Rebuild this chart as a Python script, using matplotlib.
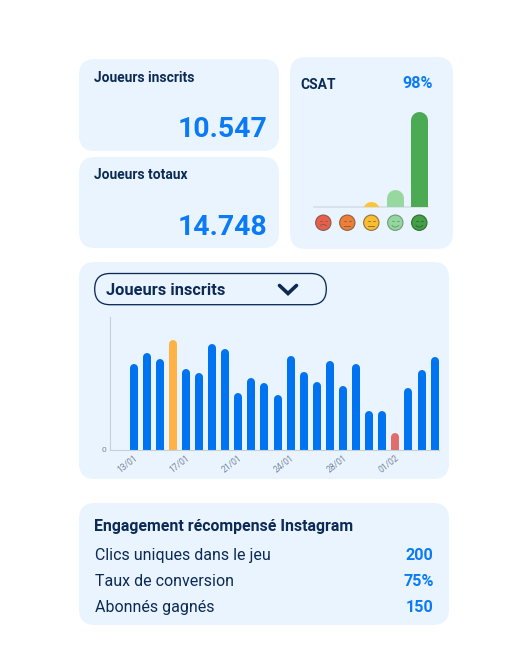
import numpy as np
from matplotlib import pyplot as plt
from matplotlib.patches import FancyBboxPatch, Circle, Arc

plt.rcParams['font.family'] = ['Roboto', 'DejaVu Sans']

W, H = 518, 672
NAVY = '#0B2A55'
BLUE = '#0A7BF5'
CARD = '#EAF4FF'

# values
stat_labels = ['Joueurs inscrits', 'Joueurs totaux']
stat_values = ['10.547', '14.748']
csat_score = '98%'
csat_counts = [0, 0, 1, 3, 16]
csat_colors = ['#E8604C', '#EE7D35', '#FFC53A', '#97D8A0', '#4CAA55']
face_colors = ['#E8604C', '#EE7D35', '#FBBD2F', '#94D6A0', '#43A047']
face_edges = ['#8A5A50', '#8A6248', '#8A7444', '#6F9A78', '#2E6B34']
face_mouths = [-1, 0, 0, 1, 1]
daily_players = [86, 97, 91, 110, 81, 77, 106, 101, 57, 72, 67, 55, 94, 78, 68, 89,
                 64, 86, 39, 39, 17, 62, 80, 93]
bar_highlights = {3: '#FFB347', 20: '#E06C6C'}
tick_index = [0, 4, 8, 12, 16, 20]
tick_labels = ['13/01', '17/01', '21/01', '24/01', '28/01', '01/02']
row_labels = ['Clics uniques dans le jeu', 'Taux de conversion', 'Abonnés gagnés']
row_values = ['200', '75%', '150']


def px_axes(fig, left, top, right, bottom):
    return fig.add_axes([left / W, 1 - bottom / H, (right - left) / W, (bottom - top) / H])


def card(ax, x0, y0, x1, y1, r=16, fc=CARD, ec='none', lw=0):
    ax.add_patch(FancyBboxPatch((x0 + r, y0 + r), x1 - x0 - 2 * r, y1 - y0 - 2 * r,
                                boxstyle='round,pad=%f,rounding_size=%f' % (r, r),
                                fc=fc, ec=ec, lw=lw))


def rounded_bars(ax, xs, values, width_px, units_per_px, colors):
    # round cap on top, the one at the bottom gets clipped by the axes
    r = width_px / 2.0 * units_per_px
    tops = np.array(values, dtype=float) - r
    bottoms = np.minimum(0, tops - 1 * units_per_px)
    ax.vlines(xs, bottoms, tops, colors=colors, linewidth=width_px * 0.72, capstyle='round', zorder=2)


fig = plt.figure(figsize=(W / 100.0, H / 100.0), dpi=100, facecolor='white')
bg = fig.add_axes([0, 0, 1, 1])
bg.set_xlim(0, W)
bg.set_ylim(H, 0)
bg.axis('off')

# cards
card(bg, 79, 59, 279, 151)
card(bg, 79, 157, 279, 248)
card(bg, 290, 57, 453, 249)
card(bg, 79, 262, 449, 479)
card(bg, 79, 503, 449, 625)

# top left numbers
for label, val, y_lab, y_val in zip(stat_labels, stat_values, [81.7, 179.3], [137.3, 235]):
    bg.text(94.5, y_lab, label, color=NAVY, fontsize=9.95, fontweight='bold', va='baseline')
    bg.text(267, y_val, val, color=BLUE, fontsize=20.4, fontweight='bold', va='baseline', ha='right')

# csat
bg.text(300.5, 89, 'CSAT', color=NAVY, fontsize=10, fontweight='bold', va='baseline')
bg.text(432.5, 88.5, csat_score, color=BLUE, fontsize=11.6, fontweight='bold', va='baseline', ha='right')

ax_csat = px_axes(fig, 311.3, 105, 431.3, 207)
ax_csat.patch.set_alpha(0)
ax_csat.axis('off')
ax_csat.set_xlim(-0.5, 4.5)
ax_csat.set_ylim(0, 17)
rounded_bars(ax_csat, range(5), csat_counts, 17, 1 / 6.0, csat_colors)
bg.plot([314, 428], [207, 207], color='#D3DDE8', lw=1.1, zorder=1)

ax_faces = px_axes(fig, 311.3, 210.7, 431.3, 234.7)
ax_faces.patch.set_alpha(0)
ax_faces.axis('off')
ax_faces.set_xlim(-0.5, 4.5)
ax_faces.set_ylim(-0.5, 0.5)
for i, (fc, ec, m) in enumerate(zip(face_colors, face_edges, face_mouths)):
    ax_faces.add_patch(Circle((i, 0), 0.32, fc=fc, ec=ec, lw=0.8))
    ax_faces.plot([i - 0.14, i - 0.06], [0.07, 0.07], color=ec, lw=0.6)
    ax_faces.plot([i + 0.06, i + 0.14], [0.07, 0.07], color=ec, lw=0.6)
    if m == 0:
        ax_faces.plot([i - 0.12, i + 0.12], [-0.12, -0.12], color=ec, lw=0.7)
    elif m > 0:
        ax_faces.add_patch(Arc((i, -0.04), 0.32, 0.28, theta1=200, theta2=340, color=ec, lw=0.7))
    else:
        ax_faces.add_patch(Arc((i, -0.2), 0.3, 0.26, theta1=20, theta2=160, color=ec, lw=0.7))

# dropdown
card(bg, 94.7, 273.5, 326.3, 304.7, r=15.5, fc='none', ec=NAVY, lw=0.95)
bg.text(106, 295.3, 'Joueurs inscrits', color=NAVY, fontsize=11.75, fontweight='bold', va='baseline')
bg.plot([279.5, 288, 296.5], [285.5, 293.5, 285.5], color=NAVY, lw=2.6, solid_capstyle='round',
        solid_joinstyle='miter')

# bars
ax = px_axes(fig, 110, 317, 439, 450)
ax.patch.set_alpha(0)
x = np.arange(len(daily_players))
colors = [bar_highlights.get(i, '#0074F0') for i in x]
ax.set_xlim(-1.8, 23.33)
ax.set_ylim(0, 133)
rounded_bars(ax, x, daily_players, 8, 1.0, colors)
for s in ['top', 'right']:
    ax.spines[s].set_visible(False)
for s in ['left', 'bottom']:
    ax.spines[s].set_color('#C5D0DC')
    ax.spines[s].set_linewidth(0.8)
ax.set_yticks([0])
ax.set_yticklabels(['0'], fontsize=6, color='#75859A')
ax.set_xticks(tick_index)
ax.set_xticklabels(tick_labels, fontsize=6.2, color='#75859A', rotation=38, ha='right', rotation_mode='anchor')
ax.tick_params(length=0, pad=2.5)

# engagement
bg.text(94, 531, 'Engagement récompensé Instagram', color=NAVY, fontsize=11.4, fontweight='bold', va='baseline')
for label, val, y in zip(row_labels, row_values, [560, 585.7, 611.7]):
    bg.text(95, y, label, color=NAVY, fontsize=11.5, va='baseline')
    bg.text(433.5, y, val, color=BLUE, fontsize=11.6, fontweight='bold', va='baseline', ha='right')

plt.savefig('out.png', dpi=100)
